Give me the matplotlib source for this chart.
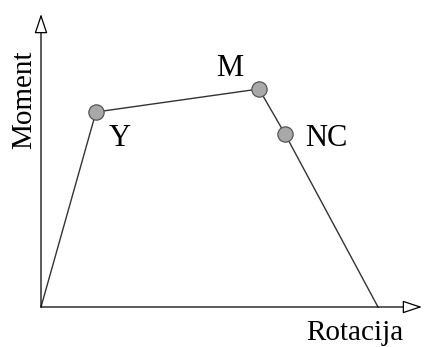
import matplotlib.pyplot as plt

plt.rcParams['font.family'] = ['Liberation Serif', 'DejaVu Serif']

# moment-rotation backbone curve (drawing units)
rotation = [0, 55, 218, 244, 337]
moment = [0, 195, 218, 173, 0]
point_names = ['', 'Y', 'M', 'NC', '']
label_offsets = [None, (24, -26), (-29, 21), (41, -4), None]


def draw_axis_arrow(ax, end):
    ax.annotate('', xy=end, xytext=(0, 0),
                arrowprops=dict(arrowstyle='-|>,head_length=1.2,head_width=0.4',
                                mutation_scale=10, fc='white', ec='black',
                                lw=0.9, shrinkA=0, shrinkB=0))


def main():
    fig = plt.figure(figsize=(4.25, 3.47), dpi=100)
    ax = fig.add_axes([0, 0, 1, 1])
    ax.set_xlim(-41, 384)
    ax.set_ylim(-40, 307)
    ax.axis('off')

    draw_axis_arrow(ax, (381, 0))
    draw_axis_arrow(ax, (0, 293))

    ax.plot(rotation, moment, color='#333333', lw=1.0)
    ax.plot(rotation[1:4], moment[1:4], linestyle='none', marker='o',
            markersize=11, markerfacecolor='#a8a8a8',
            markeredgecolor='#555555', markeredgewidth=0.9)

    for x, y, name, off in zip(rotation, moment, point_names, label_offsets):
        if name:
            ax.text(x + off[0], y + off[1], name, fontsize=22,
                    ha='center', va='center')

    ax.text(-17, 207, 'Moment', fontsize=21, rotation=90,
            ha='center', va='center')
    ax.text(314, -26, 'Rotacija', fontsize=21, ha='center', va='center')

    fig.savefig('out.png', dpi=100)


if __name__ == "__main__":
    main()
